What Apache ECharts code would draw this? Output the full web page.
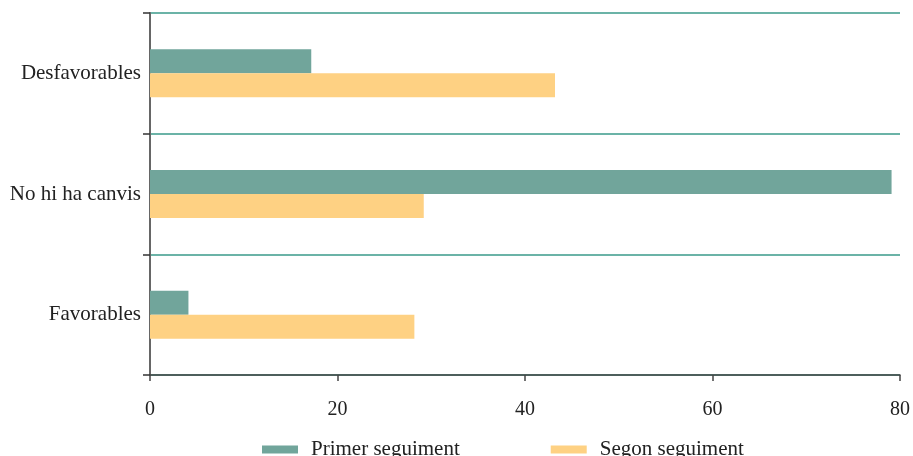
<!DOCTYPE html>
<html>
<head>
<meta charset="utf-8">
<script src="https://cdn.jsdelivr.net/npm/echarts@6/dist/echarts.min.js"></script>
<style>
  html, body { margin: 0; padding: 0; background: #fff; }
  #chart { width: 913px; height: 456px; }
</style>
</head>
<body>
<div id="chart"></div>
<script>
// Categories listed bottom to top along the vertical axis
const categories = ['Favorables', 'No hi ha canvis', 'Desfavorables'];
const seriesNames = ['Primer seguiment', 'Segon seguiment'];
const primerValues = [4.1, 79.1, 17.2];
const segonValues = [28.2, 29.2, 43.2];
const xTicks = { min: 0, max: 80, interval: 20 };

const font = 'Liberation Serif, Times New Roman, serif';
const textColor = '#222';
const colors = { primer: '#71a59b', segon: '#fed183' };

const chart = echarts.init(document.getElementById('chart'));
chart.setOption({
  animation: false,
  textStyle: { fontFamily: font, color: textColor },
  grid: { left: 150, right: 12, top: 13, bottom: 81, containLabel: false },
  legend: {
    left: 262,
    top: 439,
    padding: 0,
    data: [seriesNames[0], seriesNames[1]],
    itemWidth: 36,
    itemHeight: 8,
    itemGap: 91,
    icon: 'rect',
    textStyle: { fontFamily: font, fontSize: 21, color: textColor, padding: [0, 0, 0, 8] },
    selectedMode: false
  },
  xAxis: {
    type: 'value',
    min: xTicks.min,
    max: xTicks.max,
    interval: xTicks.interval,
    axisLine: { show: true, lineStyle: { color: '#444', width: 1.5 } },
    axisTick: { show: true, length: 6, lineStyle: { color: '#444', width: 1.5 } },
    axisLabel: { fontFamily: font, fontSize: 20, color: textColor, margin: 25 },
    splitLine: { show: false }
  },
  yAxis: {
    type: 'category',
    data: categories,
    axisLine: { show: true, lineStyle: { color: '#666', width: 2 } },
    axisTick: { show: true, length: 7, lineStyle: { color: '#333', width: 1.5 } },
    axisLabel: { fontFamily: font, fontSize: 21, color: textColor, margin: 9 },
    splitLine: { show: true, lineStyle: { color: '#3a9a8a', width: 1.5 } }
  },
  series: [
    {
      name: seriesNames[0],
      type: 'bar',
      data: primerValues,
      barWidth: 24,
      barGap: '0%',
      itemStyle: { color: colors.primer }
    },
    {
      name: seriesNames[1],
      type: 'bar',
      data: segonValues,
      barWidth: 24,
      barGap: '0%',
      itemStyle: { color: colors.segon }
    }
  ]
});
</script>
</body>
</html>
